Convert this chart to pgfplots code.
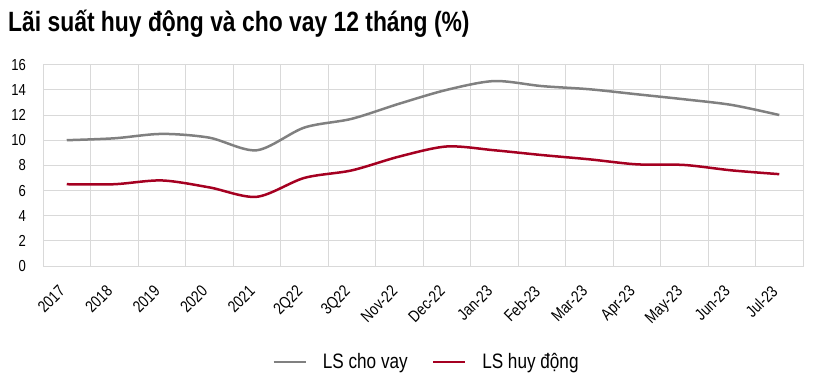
\documentclass[border=0pt]{standalone}
\usepackage{fontspec}
\setmainfont{Liberation Sans}[FakeStretch=0.82]
\usepackage{pgfplots}
\pgfplotsset{compat=1.18}
\definecolor{grayline}{HTML}{808080}
\definecolor{redline}{HTML}{A50021}
\definecolor{gridc}{HTML}{D9D9D9}
\begin{document}
\begin{tikzpicture}[x=1bp,y=1bp]
\useasboundingbox (0,0) rectangle (820,390);
\node[anchor=base west, font=\bfseries\fontsize{28}{30}\selectfont, inner sep=0] at (8,358.3) {Lãi suất huy động và cho vay 12 tháng (\%)};
\begin{axis}[
  at={(43bp,124bp)}, anchor=south west,
  scale only axis, width=760bp, height=201.3bp,
  xmin=-0.5, xmax=15.5, ymin=0, ymax=16,
  xtick={0,...,15},
  xticklabels={2017,2018,2019,2020,2021,2Q22,3Q22,Nov-22,Dec-22,Jan-23,Feb-23,Mar-23,Apr-23,May-23,Jun-23,Jul-23},
  minor xtick={-0.5,0.5,...,15.5},
  ytick={0,2,...,16},
  xmajorgrids=false, xminorgrids=true, ymajorgrids=true,
  grid style={gridc, line width=1bp},
  minor grid style={gridc, line width=1bp},
  axis line style={gridc, line width=1bp},
  major tick length=0pt, minor tick length=0pt,
  /pgf/number format/assume math mode=true,
  x tick label style={yshift=-18bp, xshift=-9bp, rotate=45, anchor=north east, inner sep=0pt, font=\fontsize{16.5}{16.5}\selectfont},
  y tick label style={anchor=east, inner sep=0pt, xshift=-17bp, font=\fontsize{16}{16}\selectfont},
  legend style={at={(0.5046,-0.477)}, anchor=center, draw=none, fill=none,
    font=\fontsize{21}{21}\selectfont, column sep=14bp,
    /tikz/every even column/.append style={column sep=22bp}},
  legend columns=2,
  legend image code/.code={\draw[#1, line width=2.5bp] (0bp,0bp) -- (32bp,0bp);},
]
\addplot[grayline, line width=2.5bp, smooth] coordinates {
(0,10.0) (1,10.15) (2,10.5) (3,10.2) (4,9.2) (5,11.0) (6,11.7) (7,12.9)
(8,14.0) (9,14.7) (10,14.3) (11,14.05) (12,13.65) (13,13.25) (14,12.8) (15,12.0)};
\addlegendentry{LS cho vay}
\addplot[redline, line width=2.5bp, smooth] coordinates {
(0,6.5) (1,6.5) (2,6.8) (3,6.25) (4,5.5) (5,7.0) (6,7.6) (7,8.7)
(8,9.5) (9,9.2) (10,8.82) (11,8.48) (12,8.08) (13,8.03) (14,7.6) (15,7.3)};
\addlegendentry{LS huy động}
\end{axis}
\end{tikzpicture}
\end{document}
